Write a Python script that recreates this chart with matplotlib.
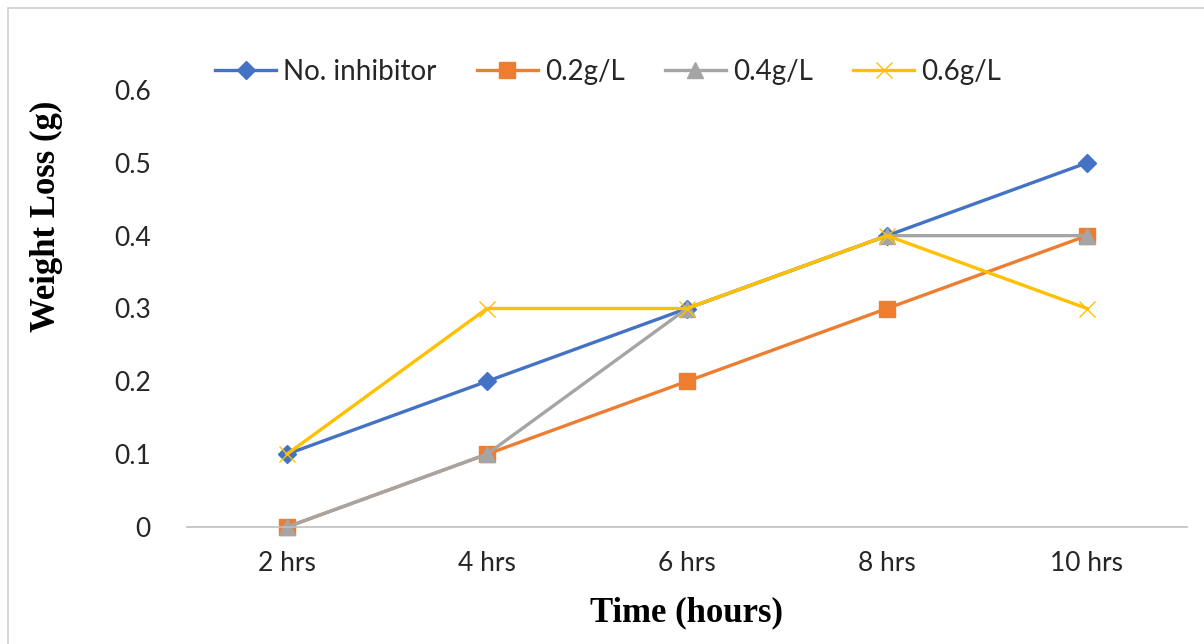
import matplotlib
matplotlib.use("Agg")
import matplotlib.pyplot as plt
from matplotlib.patches import Rectangle

# datos do grafico
horas = ["2 hrs", "4 hrs", "6 hrs", "8 hrs", "10 hrs"]
sem_inibidor = [0.1, 0.2, 0.3, 0.4, 0.5]
inib_02 = [0.0, 0.1, 0.2, 0.3, 0.4]
inib_04 = [0.0, 0.1, 0.3, 0.4, 0.4]
inib_06 = [0.1, 0.3, 0.3, 0.4, 0.3]
y_ticks = [0, 0.1, 0.2, 0.3, 0.4, 0.5, 0.6]
y_tick_labels = ["0", "0.1", "0.2", "0.3", "0.4", "0.5", "0.6"]

W, H = 1204, 644
fig = plt.figure(figsize=(W / 100, H / 100), dpi=100)
ax = fig.add_axes([187 / W, 1 - 527 / H, 1000 / W, (527 - 90) / H])

x = list(range(len(horas)))
ax.plot(x, sem_inibidor, color="#4472C4", lw=2.4, marker="D", ms=9, label="No. inhibitor", clip_on=False)
ax.plot(x, inib_02, color="#ED7D31", lw=2.4, marker="s", ms=12, label="0.2g/L", clip_on=False)
ax.plot(x, inib_04, color="#A5A5A5", lw=2.4, marker="^", ms=12, label="0.4g/L", clip_on=False)
ax.plot(x, inib_06, color="#FFC000", lw=2.4, marker="x", ms=12, mew=1.0, label="0.6g/L", clip_on=False)

ax.set_xlim(-0.5, 4.5)
ax.set_ylim(0, 0.6)
ax.set_xticks(x)
ax.set_xticklabels(horas)
ax.set_yticks(y_ticks)
ax.set_yticklabels(y_tick_labels)
ax.tick_params(axis="both", length=0, labelsize=19, labelcolor="#262626")
ax.tick_params(axis="x", pad=17)
ax.tick_params(axis="y", pad=26)
for lab in ax.get_xticklabels() + ax.get_yticklabels():
    lab.set_fontfamily("Lato")

for s in ["top", "right", "left"]:
    ax.spines[s].set_visible(False)
ax.spines["bottom"].set_color("#BFBFBF")
ax.spines["bottom"].set_linewidth(1.2)

ax.set_xlabel("Time (hours)", fontfamily="Liberation Serif", fontweight="bold", fontsize=25)
ax.set_ylabel("Weight Loss (g)", fontfamily="Liberation Serif", fontweight="bold", fontsize=25)
ax.xaxis.set_label_coords((687 - 187) / 1000, -(613 - 527) / 437)
ax.xaxis.label.set_verticalalignment("center")
ax.yaxis.set_label_coords(-(187 - 46) / 1000, (527 - 216) / 437)
ax.yaxis.label.set_verticalalignment("center")

leg = ax.legend(loc="center left", bbox_to_anchor=(215 / W, 1 - 72 / H),
                bbox_transform=fig.transFigure, ncol=4, frameon=False,
                prop={"family": "Lato", "size": 20}, handlelength=2.2,
                handletextpad=0.25, columnspacing=1.45, borderaxespad=0, borderpad=0)
for t in leg.get_texts():
    t.set_color("#262626")

# borda da figura
fig.patches.append(Rectangle((7.5 / W, -0.1), 1.2, 1.1 - 8.5 / H, transform=fig.transFigure,
                             fill=False, edgecolor="#D0D0D0", lw=1.2))

fig.savefig("out.png", dpi=100)
